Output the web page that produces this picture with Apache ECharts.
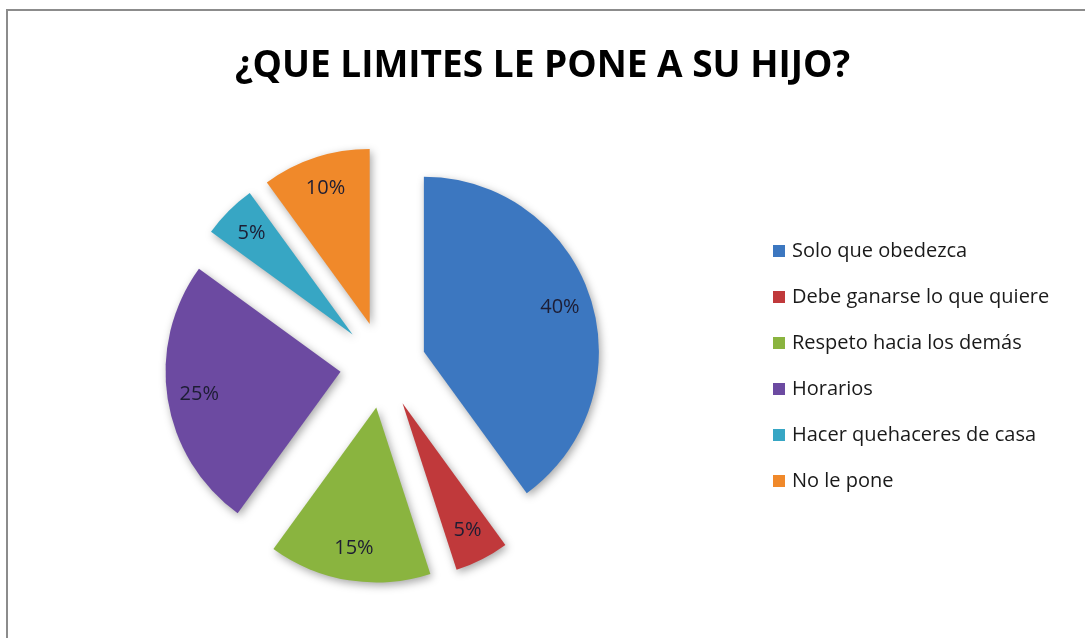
<!DOCTYPE html>
<html lang="es">
<head>
    <meta charset="UTF-8">
    <title>¿QUE LIMITES LE PONE A SU HIJO?</title>
    <style>
        body { margin: 0; background: #fff; }
        #wrap { position: absolute; left: 0; top: 0; width: 1085px; height: 638px; }
        #frame { position: absolute; left: 6px; top: 9px; right: -10px; bottom: -10px;
                 border-left: 2px solid #8c8c8c; border-top: 2px solid #8c8c8c; }
        #demo { position: absolute; left: 0; top: 0; width: 1085px; height: 638px; }
    </style>
</head>
<body>
<div id="wrap">
    <div id="frame"></div>
    <div id="demo"></div>
</div>
<script src="https://cdn.jsdelivr.net/npm/echarts@6/dist/echarts.min.js"></script>
<script type="text/javascript">

    var titulo = '¿QUE LIMITES LE PONE A SU HIJO?';
    var categorias = ['Solo que obedezca', 'Debe ganarse lo que quiere', 'Respeto hacia los demás',
        'Horarios', 'Hacer quehaceres de casa', 'No le pone'];
    var valores = [40, 5, 15, 25, 5, 10];
    var colores = ['#3c77c0', '#c0393b', '#8ab43f', '#6c4aa1', '#37a6c4', '#f0892a'];

    var myChart = echarts.init(document.getElementById('demo'));

    var datos = [], etiquetas = [];
    for (var i = 0; i < categorias.length; i++) {
        datos[i] = {
            name: categorias[i],
            value: valores[i],
            selected: true,
            itemStyle: { color: colores[i] }
        };
        etiquetas[i] = { name: categorias[i], value: valores[i], selected: true };
    }

    var option = {
        animation: false,
        title: {
            text: titulo,
            left: 'center',
            top: 43,
            textStyle: {
                fontFamily: 'Open Sans',
                fontWeight: 'bold',
                fontSize: 37,
                color: '#000'
            }
        },
        legend: {
            orient: 'vertical',
            left: 768,
            top: 235,
            itemGap: 24,
            itemWidth: 12,
            itemHeight: 12,
            icon: 'rect',
            selectedMode: false,
            data: categorias,
            textStyle: { fontFamily: 'Open Sans', fontSize: 20, lineHeight: 22, color: '#1a1a1a', padding: [0, 0, 0, 2] }
        },
        series: [{
            type: 'pie',
            center: [383, 365],
            radius: [0, 175],
            startAngle: 90,
            clockwise: true,
            selectedMode: 'multiple',
            selectedOffset: 43,
            label: { show: false },
            labelLine: { show: false },
            emphasis: { disabled: true },
            itemStyle: {
                shadowBlur: 8,
                shadowColor: 'rgba(0,0,0,0.35)',
                shadowOffsetX: 2,
                shadowOffsetY: 3
            },
            data: datos
        }, {
            // serie transparente solo para colocar las etiquetas
            type: 'pie',
            center: [383, 365],
            radius: [105, 175],
            startAngle: 90,
            clockwise: true,
            selectedMode: 'multiple',
            selectedOffset: 43,
            silent: true,
            itemStyle: { color: 'rgba(0,0,0,0)' },
            labelLine: { show: false },
            label: {
                show: true,
                position: 'inside',
                formatter: '{c}%',
                fontFamily: 'Open Sans',
                fontSize: 20,
                color: '#1d1d33'
            },
            data: etiquetas
        }]
    };
    myChart.setOption(option);
</script>
</body>
</html>
